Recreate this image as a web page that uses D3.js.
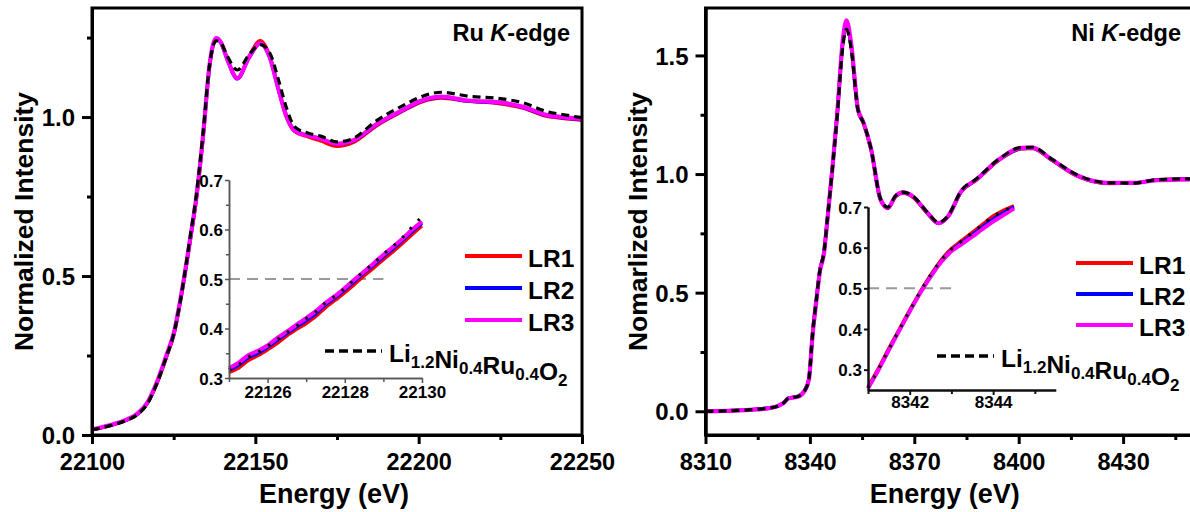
<!DOCTYPE html>
<meta charset="utf-8">
<html>
<head>
<title>Ru and Ni K-edge XANES</title>
<script src="https://d3js.org/d3.v7.min.js"></script>
<style>
  body { margin: 0; background: #fff; }
  svg text { font-family: "Liberation Sans", Arial, sans-serif; font-weight: bold; fill: #000; }
</style>
</head>
<body>
<div id="chart"></div>
<script>

// ---------- Ru K-edge, main spectra ----------
var ruE   = [22100, 22105, 22110, 22114, 22117, 22120, 22123, 22125, 22128, 22130, 22132, 22134, 22136, 22138, 22139.5, 22141.5, 22144.5, 22148, 22151.5, 22154.5, 22157, 22159.5, 22162, 22166, 22170, 22175, 22180, 22187, 22195, 22201, 22207, 22215, 22225, 22232, 22239, 22244, 22250];
var ruLR1 = [0.016, 0.028, 0.044, 0.066, 0.100, 0.165, 0.250, 0.312, 0.476, 0.606, 0.745, 0.935, 1.160, 1.248, 1.235, 1.180, 1.122, 1.190, 1.240, 1.190, 1.090, 1.000, 0.955, 0.938, 0.925, 0.908, 0.920, 0.972, 1.018, 1.048, 1.060, 1.050, 1.042, 1.028, 1.003, 0.996, 0.990];
var ruLR2 = [0.017, 0.029, 0.045, 0.066, 0.101, 0.167, 0.254, 0.316, 0.480, 0.610, 0.750, 0.940, 1.162, 1.246, 1.232, 1.178, 1.120, 1.185, 1.232, 1.185, 1.090, 1.005, 0.958, 0.942, 0.932, 0.915, 0.925, 0.975, 1.020, 1.050, 1.062, 1.050, 1.045, 1.030, 1.005, 0.998, 0.992];
var ruLR3 = [0.018, 0.030, 0.046, 0.068, 0.103, 0.170, 0.257, 0.319, 0.483, 0.614, 0.753, 0.942, 1.165, 1.248, 1.234, 1.180, 1.122, 1.186, 1.232, 1.185, 1.090, 1.003, 0.957, 0.942, 0.932, 0.916, 0.927, 0.977, 1.022, 1.052, 1.064, 1.052, 1.046, 1.032, 1.007, 1.000, 0.994];
var ruRef = [0.016, 0.028, 0.044, 0.065, 0.099, 0.166, 0.253, 0.317, 0.482, 0.620, 0.760, 0.950, 1.165, 1.240, 1.232, 1.190, 1.148, 1.195, 1.228, 1.200, 1.120, 1.030, 0.970, 0.950, 0.940, 0.922, 0.933, 0.988, 1.035, 1.065, 1.078, 1.066, 1.058, 1.045, 1.018, 1.008, 0.998];

// ---------- Ru K-edge, inset (edge position) ----------
var ruInE   = [22125, 22125.25, 22125.5, 22125.75, 22126, 22126.25, 22126.5, 22126.75, 22127, 22127.25, 22127.5, 22127.75, 22128, 22128.25, 22128.5, 22128.75, 22129, 22129.25, 22129.5, 22129.75, 22130];
var ruInLR1 = [0.311, 0.320, 0.335, 0.345, 0.357, 0.370, 0.385, 0.398, 0.410, 0.424, 0.442, 0.457, 0.472, 0.489, 0.506, 0.522, 0.539, 0.555, 0.572, 0.590, 0.607];
var ruInLR2 = [0.316, 0.326, 0.341, 0.350, 0.362, 0.376, 0.390, 0.403, 0.416, 0.430, 0.448, 0.462, 0.478, 0.495, 0.512, 0.528, 0.545, 0.561, 0.578, 0.596, 0.612];
var ruInLR3 = [0.320, 0.331, 0.346, 0.355, 0.366, 0.381, 0.394, 0.408, 0.421, 0.435, 0.452, 0.466, 0.482, 0.499, 0.515, 0.532, 0.549, 0.565, 0.582, 0.600, 0.616];
var ruInRef = [0.317, 0.327, 0.342, 0.352, 0.364, 0.378, 0.392, 0.405, 0.420, 0.434, 0.452, 0.466, 0.481, 0.499, 0.516, 0.532, 0.550, 0.566, 0.584, 0.606, 0.626];

// ---------- Ni K-edge, main spectra ----------
var niE   = [8310, 8318, 8325, 8330, 8332.5, 8333.8, 8336.5, 8338.6, 8339.7, 8340.8, 8341.9, 8342.9, 8344, 8345.1, 8346.5, 8347.8, 8349.5, 8350.5, 8351.9, 8353.8, 8355.4, 8357.6, 8360.3, 8362.4, 8364.6, 8366.8, 8369.5, 8373.8, 8377, 8379.7, 8383.5, 8387.8, 8394.3, 8400.8, 8404, 8409.5, 8417, 8425.7, 8433.3, 8439.7, 8450];
var niLR1 = [0.000, 0.003, 0.009, 0.019, 0.037, 0.056, 0.063, 0.091, 0.137, 0.335, 0.478, 0.598, 0.667, 0.822, 1.032, 1.245, 1.562, 1.632, 1.537, 1.270, 1.213, 1.100, 0.888, 0.855, 0.904, 0.920, 0.903, 0.833, 0.791, 0.820, 0.925, 0.974, 1.058, 1.106, 1.108, 1.058, 0.990, 0.960, 0.962, 0.976, 0.981];
var niLR2 = [0.000, 0.003, 0.009, 0.018, 0.036, 0.055, 0.062, 0.090, 0.135, 0.330, 0.475, 0.595, 0.665, 0.820, 1.030, 1.243, 1.560, 1.630, 1.535, 1.271, 1.215, 1.103, 0.892, 0.857, 0.906, 0.922, 0.906, 0.836, 0.793, 0.821, 0.927, 0.976, 1.060, 1.108, 1.110, 1.060, 0.992, 0.962, 0.963, 0.975, 0.979];
var niLR3 = [0.000, 0.003, 0.008, 0.018, 0.035, 0.054, 0.061, 0.089, 0.133, 0.326, 0.472, 0.592, 0.662, 0.818, 1.030, 1.245, 1.570, 1.648, 1.545, 1.275, 1.217, 1.105, 0.894, 0.858, 0.907, 0.923, 0.907, 0.837, 0.793, 0.822, 0.928, 0.977, 1.061, 1.110, 1.111, 1.061, 0.993, 0.963, 0.963, 0.974, 0.978];
var niRef = [0.000, 0.003, 0.009, 0.018, 0.036, 0.055, 0.062, 0.090, 0.134, 0.330, 0.476, 0.596, 0.666, 0.822, 1.028, 1.238, 1.545, 1.610, 1.525, 1.272, 1.216, 1.104, 0.895, 0.860, 0.908, 0.924, 0.908, 0.838, 0.796, 0.824, 0.930, 0.979, 1.063, 1.112, 1.113, 1.063, 0.995, 0.963, 0.962, 0.976, 0.980];

// ---------- Ni K-edge, inset ----------
var niInE   = [8341, 8341.25, 8341.5, 8341.75, 8342, 8342.25, 8342.5, 8342.75, 8343, 8343.25, 8343.5, 8343.75, 8344, 8344.25, 8344.5];
var niInLR1 = [0.258, 0.304, 0.353, 0.400, 0.447, 0.492, 0.533, 0.570, 0.598, 0.618, 0.638, 0.658, 0.678, 0.692, 0.703];
var niInLR2 = [0.255, 0.300, 0.349, 0.397, 0.444, 0.489, 0.530, 0.566, 0.594, 0.613, 0.632, 0.652, 0.671, 0.686, 0.700];
var niInLR3 = [0.254, 0.299, 0.348, 0.396, 0.443, 0.488, 0.528, 0.564, 0.591, 0.609, 0.627, 0.646, 0.664, 0.680, 0.696];
var niInRef = [0.256, 0.301, 0.350, 0.398, 0.445, 0.491, 0.533, 0.568, 0.596, 0.616, 0.636, 0.657, 0.676, 0.690, 0.702];

// ---------- labels / ticks ----------
var seriesNames = ["LR1", "LR2", "LR3"];
var seriesColors = ["#ff0000", "#0000ff", "#ff00ff"];
var ruXMajor = [22100, 22150, 22200, 22250], ruXMinor = [22125, 22175, 22225];
var ruYMajor = [0, 0.5, 1.0], ruYMinor = [0.25, 0.75, 1.25];
var niXMajor = [8310, 8340, 8370, 8400, 8430], niXMinor = [8325, 8355, 8385, 8415, 8445];
var niYMajor = [0, 0.5, 1.0, 1.5], niYMinor = [0.25, 0.75, 1.25];
var ruInXMajor = [22126, 22128, 22130], ruInXMinor = [22125, 22127, 22129];
var niInXMajor = [8342, 8344], niInXMinor = [8341, 8343, 8345];
var inYMajor = [0.3, 0.4, 0.5, 0.6, 0.7], inYMinor = [0.35, 0.45, 0.55, 0.65];

var svg = d3.select("#chart").append("svg")
    .attr("width", 1190)
    .attr("height", 512);

function zipped(E, v) { return E.map(function (e, i) { return [e, v[i]]; }); }

function drawCurves(g, x, y, E, sets, o) {
    var line = d3.line()
        .x(function (d) { return x(d[0]); })
        .y(function (d) { return y(d[1]); })
        .curve(d3.curveMonotoneX);
    sets.slice(0, 3).forEach(function (v, i) {
        g.append("path").attr("d", line(zipped(E, v)))
            .attr("fill", "none").attr("stroke", seriesColors[i])
            .attr("stroke-width", i == 2 ? o.w + 0.8 : o.w);
    });
    g.append("path").attr("d", line(zipped(E, sets[3])))
        .attr("fill", "none").attr("stroke", "#000")
        .attr("stroke-width", o.refW)
        .attr("stroke-dasharray", o.dash);
}

function styleAxis(a, w, col) {
    a.select(".domain").attr("stroke", col).attr("stroke-width", w);
    a.selectAll(".tick line").attr("stroke", col).attr("stroke-width", w);
    a.attr("font-family", null).attr("font-size", null);
}

function mainPanel(p) {
    var x = d3.scaleLinear().domain(p.xDom).range([p.left, p.right]);
    var y = d3.scaleLinear().domain(p.yDom).range([p.bottom, p.top]);
    var g = svg.append("g");

    drawCurves(g, x, y, p.E, p.sets, { w: 3.4, refW: 3.2, dash: "8,5" });

    // frame
    g.append("rect").attr("x", p.left).attr("y", p.top)
        .attr("width", p.right - p.left).attr("height", p.bottom - p.top)
        .attr("fill", "none").attr("stroke", "#000").attr("stroke-width", 3);

    var xm = g.append("g").attr("transform", "translate(0," + p.bottom + ")")
        .call(d3.axisBottom(x).tickValues(p.xMinor).tickSize(5).tickSizeOuter(0).tickFormat(""));
    styleAxis(xm, 3, "#000");
    var xa = g.append("g").attr("transform", "translate(0," + p.bottom + ")")
        .call(d3.axisBottom(x).tickValues(p.xMajor).tickSize(9).tickSizeOuter(0).tickFormat(d3.format("d")));
    styleAxis(xa, 3, "#000");
    xa.selectAll("text").attr("y", 35).attr("dy", null).attr("font-size", 23.5);

    var ym = g.append("g").attr("transform", "translate(" + p.left + ",0)")
        .call(d3.axisLeft(y).tickValues(p.yMinor).tickSize(5).tickSizeOuter(0).tickFormat(""));
    styleAxis(ym, 3, "#000");
    var ya = g.append("g").attr("transform", "translate(" + p.left + ",0)")
        .call(d3.axisLeft(y).tickValues(p.yMajor).tickSize(10).tickSizeOuter(0).tickFormat(d3.format(".1f")));
    styleAxis(ya, 3, "#000");
    ya.selectAll("text").attr("x", -17).attr("dy", "0.36em").attr("font-size", 24);

    // axis titles
    g.append("text").attr("x", (p.left + Math.min(p.right, 1190)) / 2 - 3).attr("y", 503)
        .attr("text-anchor", "middle").attr("font-size", 27).text("Energy (eV)");
    g.append("text").attr("transform", "translate(" + p.yTitleX + "," + (p.top + p.bottom) / 2 + ") rotate(-90)")
        .attr("text-anchor", "middle").attr("font-size", 26.5).text(p.yTitle);

    // edge title
    var t = g.append("text").attr("x", p.titleX).attr("y", 41)
        .attr("text-anchor", "end").attr("font-size", 23.5);
    t.append("tspan").text(p.elem + " ");
    t.append("tspan").attr("font-style", "italic").text("K");
    t.append("tspan").text("-edge");

    // legend
    var lg = g.append("g");
    seriesNames.forEach(function (s, i) {
        var ly = p.legY + i * p.legStep;
        lg.append("line").attr("x1", p.legX).attr("x2", p.legX + 57)
            .attr("y1", ly).attr("y2", ly)
            .attr("stroke", seriesColors[i]).attr("stroke-width", 4);
        lg.append("text").attr("x", p.legX + 63).attr("y", ly + 11)
            .attr("font-size", 24.5).text(s);
    });
    lg.append("line").attr("x1", p.refX).attr("x2", p.refX + 57)
        .attr("y1", p.refY).attr("y2", p.refY)
        .attr("stroke", "#000").attr("stroke-width", 3.5).attr("stroke-dasharray", "9,5");
    var rt = lg.append("text").attr("x", p.refX + 64).attr("y", p.refY + 11).attr("font-size", 24.5);
    [["Li", "1.2"], ["Ni", "0.4"], ["Ru", "0.4"], ["O", "2"]].forEach(function (pr) {
        rt.append("tspan").attr("font-size", 24.5).text(pr[0]);
        rt.append("tspan").attr("font-size", 17).attr("dy", 6).text(pr[1]);
        rt.append("tspan").attr("font-size", 24.5).attr("dy", -6).text("");
    });
    return g;
}

function insetPanel(p) {
    var x = d3.scaleLinear().domain(p.xDom).range([p.left, p.right]);
    var y = d3.scaleLinear().domain(p.yDom).range([p.bottom, p.top]);
    var g = svg.append("g");

    // 0.5 guide
    g.append("line").attr("x1", x(p.xDom[0])).attr("x2", x(p.guideEnd))
        .attr("y1", y(0.5)).attr("y2", y(0.5))
        .attr("stroke", "#999").attr("stroke-width", 2).attr("stroke-dasharray", "11,7");

    drawCurves(g, x, y, p.E, p.sets, { w: 3.2, refW: 3, dash: "2.5,9" });

    var xm = g.append("g").attr("transform", "translate(0," + p.bottom + ")")
        .call(d3.axisBottom(x).tickValues(p.xMinor).tickSize(4).tickSizeOuter(0).tickFormat(""));
    styleAxis(xm, p.axW, p.axCol);
    var xa = g.append("g").attr("transform", "translate(0," + p.bottom + ")")
        .call(d3.axisBottom(x).tickValues(p.xMajor).tickSize(5).tickSizeOuter(0).tickFormat(d3.format("d")));
    styleAxis(xa, p.axW, p.axCol);
    xa.selectAll("text").attr("y", p.xLabY).attr("dy", null).attr("font-size", 17);

    var ym = g.append("g").attr("transform", "translate(" + p.left + ",0)")
        .call(d3.axisLeft(y).tickValues(p.yMinor).tickSize(3).tickSizeOuter(0).tickFormat(""));
    styleAxis(ym, p.axW, p.axCol);
    var ya = g.append("g").attr("transform", "translate(" + p.left + ",0)")
        .call(d3.axisLeft(y).tickValues(p.yMajor).tickSize(4).tickSizeOuter(0).tickFormat(d3.format(".1f")));
    styleAxis(ya, p.axW, p.axCol);
    ya.selectAll("text").attr("x", -6).attr("dy", "0.36em").attr("font-size", 17);
}

// left: Ru
mainPanel({
    left: 92, right: 582, top: 8, bottom: 435,
    xDom: [22100, 22250], yDom: [0, 1.343],
    xMajor: ruXMajor, xMinor: ruXMinor, yMajor: ruYMajor, yMinor: ruYMinor,
    E: ruE, sets: [ruLR1, ruLR2, ruLR3, ruRef],
    yTitle: "Normalized Intensity", yTitleX: 33,
    elem: "Ru", titleX: 570,
    legX: 465, legY: 256, legStep: 32, refX: 325, refY: 351
});
insetPanel({
    left: 229, right: 422, top: 180, bottom: 378,
    xDom: [22125, 22130], yDom: [0.3, 0.7], guideEnd: 22129.0,
    xMajor: ruInXMajor, xMinor: ruInXMinor, yMajor: inYMajor, yMinor: inYMinor,
    E: ruInE, sets: [ruInLR1, ruInLR2, ruInLR3, ruInRef],
    axW: 1.5, axCol: "#555", xLabY: 20
});

// right: Ni
mainPanel({
    left: 705.5, right: 1192.7, top: 8, bottom: 435,
    xDom: [8310, 8450], yDom: [-0.1, 1.7],
    xMajor: niXMajor, xMinor: niXMinor, yMajor: niYMajor, yMinor: niYMinor,
    E: niE, sets: [niLR1, niLR2, niLR3, niRef],
    yTitle: "Nomarlized Intensity", yTitleX: 647,
    elem: "Ni", titleX: 1181,
    legX: 1076, legY: 263, legStep: 31, refX: 937, refY: 356
});
insetPanel({
    left: 868, right: 1055.7, top: 207, bottom: 390,
    xDom: [8341, 8345.5], yDom: [0.25, 0.7], guideEnd: 8343.1,
    xMajor: niInXMajor, xMinor: niInXMinor, yMajor: inYMajor, yMinor: [],
    E: niInE, sets: [niInLR1, niInLR2, niInLR3, niInRef],
    axW: 2, axCol: "#111", xLabY: 18
});

</script>
</body>
</html>
